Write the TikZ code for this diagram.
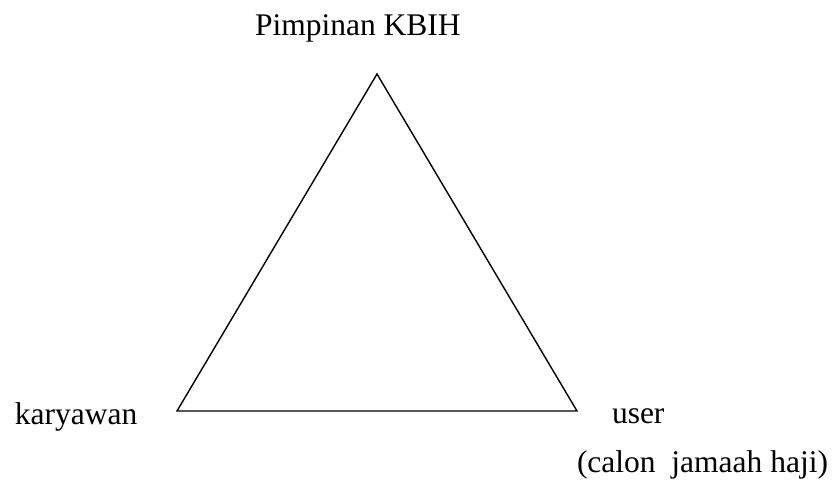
\documentclass[tikz,border=0pt]{standalone}
\usepackage{fontspec}
\setmainfont{Liberation Serif}
\begin{document}
\begin{tikzpicture}[x=1pt,y=-1pt,
  lbl/.style={anchor=base west,inner sep=0pt,outer sep=0pt,font=\fontsize{31.5}{38}\selectfont},
  edge/.style={line width=1.4pt,line join=miter}]
\useasboundingbox (0,0) rectangle (836,480);
\coordinate (top) at (377,74);
\coordinate (bl) at (177,411);
\coordinate (br) at (577,411);
\draw[edge] (top) -- (bl) -- (br) -- cycle;
\node[lbl] (pim) at (255,35) {Pimpinan KBIH};
\node[lbl] (kar) at (15,424) {karyawan};
\node[lbl] (usr) at (612,423) {user};
\node[lbl] (cal) at (577,472) {(calon\ \ jamaah haji)};
\end{tikzpicture}
\end{document}
